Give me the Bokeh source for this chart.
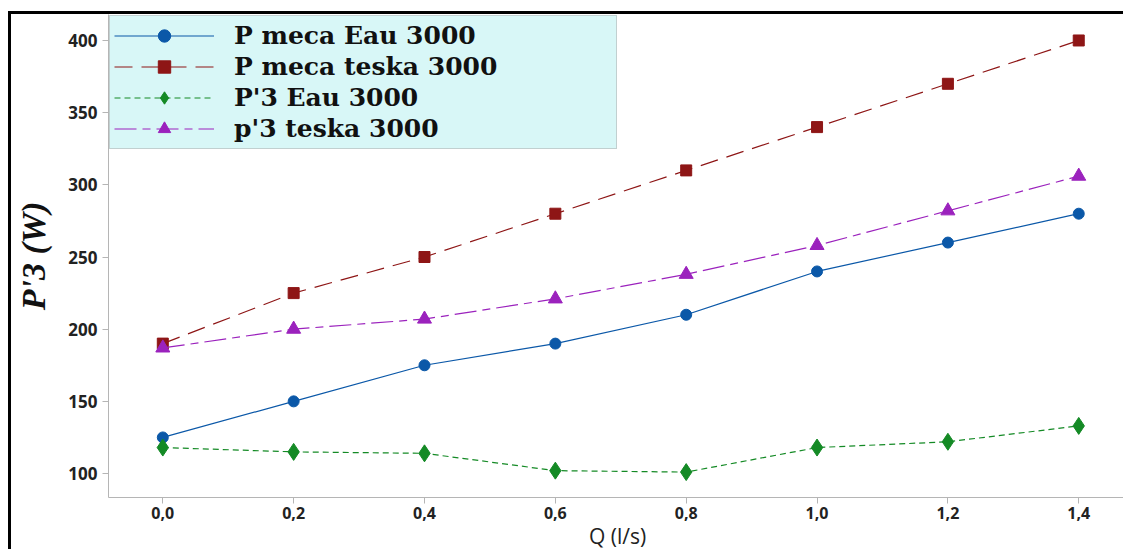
from bokeh.plotting import figure
from bokeh.models import FixedTicker, Legend, LegendItem
from bokeh.embed import file_html
from bokeh.resources import INLINE

q = [0.0, 0.2, 0.4, 0.6, 0.8, 1.0, 1.2, 1.4]
q_labels = ["0,0", "0,2", "0,4", "0,6", "0,8", "1,0", "1,2", "1,4"]
p_meca_eau = [125, 150, 175, 190, 210, 240, 260, 280]
p_meca_teska = [190, 225, 250, 280, 310, 340, 370, 400]
p3_eau = [118, 115, 114, 102, 101, 118, 122, 133]
p3_teska = [187, 200, 207, 221, 238, 258, 282, 306]
y_ticks = [100, 150, 200, 250, 300, 350, 400]

p = figure(width=1115, height=538, output_backend="svg", toolbar_location=None,
           x_range=(-0.083, 1.473), y_range=(83.4, 418),
           min_border_left=97, min_border_right=0, min_border_top=0, min_border_bottom=40)
p.styles = {"border-top": "3px solid black", "border-left": "3px solid black",
            "margin-left": "8px", "margin-top": "11px"}
p.outline_line_color = None
p.xgrid.visible = False
p.ygrid.visible = False

series = [
    ("P meca Eau 3000", p_meca_eau, "#0b58a8", "solid", "circle", 11),
    ("P meca teska 3000", p_meca_teska, "#8e1616", "18 9", "square", 11),
    ("P'3 Eau 3000", p3_eau, "#148a25", "6 4", "diamond", 17),
    ("p'3 teska 3000", p3_teska, "#9b22bd", "22 6 8 6", "triangle", 14),
]
items = []
for name, ys, col, dash, mk, sz in series:
    r1 = p.line(q, ys, line_color=col, line_width=1.2, line_dash=dash)
    r2 = p.scatter(q, ys, marker=mk, size=sz, fill_color=col, line_color=col)
    items.append(LegendItem(label=name, renderers=[r1, r2]))

leg = Legend(items=items, location="top_left", margin=1, padding=4, spacing=0,
             glyph_width=100, glyph_height=31, label_height=31, label_standoff=20,
             label_width=378,
             label_text_font="DejaVu Serif", label_text_font_style="bold",
             label_text_font_size="25px", label_text_color="#111111",
             background_fill_color="#d8f7f7", background_fill_alpha=1.0,
             border_line_color="#aaaaaa", border_line_width=1.5)
p.add_layout(leg)

for ax in (p.xaxis[0], p.yaxis[0]):
    ax.axis_line_color = "#b5b5b5"
    ax.major_tick_line_color = "#b5b5b5"
    ax.minor_tick_line_color = None
    ax.major_tick_out = 6
    ax.major_tick_in = 0
    ax.major_label_text_font = "Open Sans"
    ax.major_label_text_font_style = "bold"
    ax.major_label_text_font_size = "17px"
    ax.major_label_text_color = "#222222"

p.xaxis.major_label_standoff = 3
p.xaxis.major_label_text_font_size = "16px"
p.xaxis.ticker = FixedTicker(ticks=q)
p.xaxis.major_label_overrides = {v: s for v, s in zip(q, q_labels)}
p.yaxis.ticker = FixedTicker(ticks=y_ticks)

p.xaxis.axis_label = "Q (l/s)"
p.xaxis.axis_label_text_font = "Open Sans"
p.xaxis.axis_label_text_font_style = "normal"
p.xaxis.axis_label_text_font_size = "21px"
p.xaxis.axis_label_text_color = "#222222"
p.xaxis.axis_label_standoff = 0

p.yaxis.axis_label = "P'3 (W)"
p.yaxis.axis_label_text_font = "Liberation Serif"
p.yaxis.axis_label_text_font_style = "bold italic"
p.yaxis.axis_label_text_font_size = "34px"
p.yaxis.axis_label_text_color = "#111111"
p.yaxis.axis_label_standoff = 13

open("out.html", "w").write(file_html(p, INLINE))
